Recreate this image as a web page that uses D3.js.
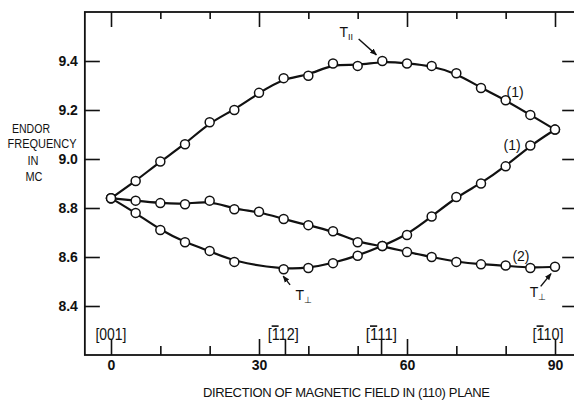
<!DOCTYPE html>
<html>
<head>
<meta charset="utf-8">
<script src="https://cdn.jsdelivr.net/npm/d3@7"></script>
<style>
  body { margin: 0; background: #fff; }
  svg text { font-family: "Liberation Sans", Arial, sans-serif; fill: #111; }
</style>
</head>
<body>
<div id="chart"></div>
<script>
// ENDOR frequency vs direction of magnetic field in (110) plane
var width = 574, height = 401;

// angles (degrees) and measured frequencies (MC)
var upperAngles = [0, 5, 10, 15, 20, 25, 30, 35, 40, 45, 50, 55, 60, 65, 70, 75, 80, 85, 90];
var upperValues = [8.84, 8.91, 8.99, 9.06, 9.15, 9.20, 9.27, 9.33, 9.34, 9.39, 9.38, 9.40, 9.39, 9.38, 9.35, 9.29, 9.24, 9.18, 9.12];

var risingAngles = [0, 5, 10, 15, 20, 25, 35, 40, 45, 50, 55, 60, 65, 70, 75, 80, 85, 90];
var risingValues = [8.84, 8.78, 8.71, 8.66, 8.625, 8.58, 8.55, 8.555, 8.575, 8.605, 8.645, 8.69, 8.765, 8.845, 8.90, 8.97, 9.055, 9.12];

var fallingAngles = [0, 5, 10, 15, 20, 25, 30, 35, 40, 45, 50, 55, 60, 65, 70, 75, 80, 85, 90];
var fallingValues = [8.84, 8.83, 8.82, 8.815, 8.83, 8.795, 8.785, 8.755, 8.73, 8.705, 8.66, 8.645, 8.62, 8.60, 8.58, 8.57, 8.565, 8.555, 8.56];

// axis ticks
var yTicks = [8.4, 8.6, 8.8, 9.0, 9.2, 9.4];
var xMajorTicks = [0, 30, 60, 90];
var xMinorTicks = [10, 20, 40, 50, 70, 80];
var directionAngles = [0, 35.26, 54.74, 90];
// label pieces: [before, overlined, after]
var directionLabels = [["[001]", "", ""], ["[", "1", "12]"], ["[", "1", "11]"], ["[", "1", "10]"]];
var directionLabelAngles = [0, 34.9, 54.8, 88.6];

// curve labels: angle, value, text
var curveLabelAngles = [81.9, 81.3, 83.1];
var curveLabelValues = [9.255, 9.035, 8.585];
var curveLabelTexts = ["(1)", "(1)", "(2)"];

// T labels and arrows
var tLabelAngles = [46.3, 37.4, 84.9];
var tLabelValues = [9.50, 8.425, 8.437];
var tLabelSubs = ["II", "\u22a5", "\u22a5"];
var arrowFrom = [[50.2, 9.49], [36.3, 8.486], [87.1, 8.48]];
var arrowTo = [[53.8, 9.425], [34.9, 8.522], [89.2, 8.532]];

var xFrame = [-5.3, 94.7];
var yFrame = [8.2, 9.6];

var x = d3.scaleLinear().domain([0, 90]).range([111, 555]);
var y = d3.scaleLinear().domain([8.2, 9.6]).range([355, 12]);

var svg = d3.select("#chart").append("svg")
    .attr("width", width)
    .attr("height", height);

svg.append("defs").append("marker")
    .attr("id", "arrow")
    .attr("viewBox", "0 0 10 10")
    .attr("refX", 9).attr("refY", 5)
    .attr("markerWidth", 7).attr("markerHeight", 7)
    .attr("markerUnits", "userSpaceOnUse")
    .attr("orient", "auto")
    .append("path")
    .attr("d", "M0,1 L10,5 L0,9 Z")
    .attr("fill", "#111");

// frame
svg.append("rect")
    .attr("x", x(xFrame[0]))
    .attr("y", y(yFrame[1]))
    .attr("width", x(xFrame[1]) - x(xFrame[0]))
    .attr("height", y(yFrame[0]) - y(yFrame[1]))
    .attr("fill", "none")
    .attr("stroke", "#111")
    .attr("stroke-width", 1.8);

function styleAxis(g) {
    g.select(".domain").remove();
    g.selectAll(".tick line").attr("stroke", "#111").attr("stroke-width", 1.6);
    g.selectAll(".tick text").attr("font-size", 14).attr("font-weight", "bold")
        .style("font-family", "'Liberation Sans', Arial, sans-serif");
}

// left axis
svg.append("g")
    .attr("transform", "translate(" + x(xFrame[0]) + ",0)")
    .call(d3.axisLeft(y).tickValues(yTicks).tickSize(-15).tickPadding(7).tickFormat(d3.format(".1f")))
    .call(styleAxis);

// right axis ticks
svg.append("g")
    .attr("transform", "translate(" + x(xFrame[1]) + ",0)")
    .call(d3.axisRight(y).tickValues(yTicks).tickSize(-16).tickFormat(""))
    .call(styleAxis);

// bottom axis
var bottomY = y(yFrame[0]);
svg.append("g")
    .attr("transform", "translate(0," + bottomY + ")")
    .call(d3.axisBottom(x).tickValues(xMajorTicks).tickSize(-16).tickPadding(5).tickFormat(d3.format("d")))
    .call(styleAxis);
svg.append("g")
    .attr("transform", "translate(0," + bottomY + ")")
    .call(d3.axisBottom(x).tickValues(xMinorTicks).tickSize(-9).tickFormat(""))
    .call(styleAxis);
svg.append("g")
    .attr("transform", "translate(0," + bottomY + ")")
    .call(d3.axisBottom(x).tickValues(directionAngles.slice(1, 3)).tickSize(-15).tickFormat(""))
    .call(styleAxis);

// top axis
var topY = y(yFrame[1]);
svg.append("g")
    .attr("transform", "translate(0," + topY + ")")
    .call(d3.axisTop(x).tickValues(xMajorTicks).tickSize(-15).tickFormat(""))
    .call(styleAxis);
svg.append("g")
    .attr("transform", "translate(0," + topY + ")")
    .call(d3.axisTop(x).tickValues(xMinorTicks).tickSize(-7).tickFormat(""))
    .call(styleAxis);

// direction labels, the bar over the 1 drawn with text-decoration
var dl = svg.append("g").selectAll("text")
    .data(directionLabels)
    .enter().append("text")
    .attr("x", function (d, i) { return x(directionLabelAngles[i]); })
    .attr("y", y(8.26))
    .attr("text-anchor", "middle")
    .attr("font-size", 16)
    .attr("textLength", 31)
    .attr("lengthAdjust", "spacingAndGlyphs");
dl.append("tspan").text(function (d) { return d[0]; });
dl.append("tspan").style("text-decoration", "overline").text(function (d) { return d[1]; });
dl.append("tspan").text(function (d) { return d[2]; });

// curves
var line = d3.line()
    .x(function (d) { return x(d[0]); })
    .y(function (d) { return y(d[1]); })
    .curve(d3.curveBasis);

var series = [
    d3.zip(upperAngles, upperValues),
    d3.zip(risingAngles, risingValues),
    d3.zip(fallingAngles, fallingValues)
];

svg.append("g").selectAll("path")
    .data(series)
    .enter().append("path")
    .attr("d", line)
    .attr("fill", "none")
    .attr("stroke", "#111")
    .attr("stroke-width", 2.2);

series.forEach(function (s) {
    svg.append("g").selectAll("circle")
        .data(s)
        .enter().append("circle")
        .attr("cx", function (d) { return x(d[0]); })
        .attr("cy", function (d) { return y(d[1]); })
        .attr("r", 4.5)
        .attr("fill", "#fff")
        .attr("stroke", "#111")
        .attr("stroke-width", 1.5);
});

// curve labels
svg.append("g").selectAll("text")
    .data(curveLabelTexts)
    .enter().append("text")
    .attr("x", function (d, i) { return x(curveLabelAngles[i]); })
    .attr("y", function (d, i) { return y(curveLabelValues[i]); })
    .attr("text-anchor", "middle")
    .attr("font-size", 14)
    .text(function (d) { return d; });

// T labels
var tl = svg.append("g").selectAll("text")
    .data(tLabelSubs)
    .enter().append("text")
    .attr("x", function (d, i) { return x(tLabelAngles[i]); })
    .attr("y", function (d, i) { return y(tLabelValues[i]); })
    .attr("font-size", 14);
tl.append("tspan").text("T");
tl.append("tspan").attr("dy", 3).attr("font-size", 9).text(function (d) { return d; });

svg.append("g").selectAll("line")
    .data(arrowFrom)
    .enter().append("line")
    .attr("x1", function (d) { return x(d[0]); })
    .attr("y1", function (d) { return y(d[1]); })
    .attr("x2", function (d, i) { return x(arrowTo[i][0]); })
    .attr("y2", function (d, i) { return y(arrowTo[i][1]); })
    .attr("stroke", "#111")
    .attr("stroke-width", 1.4)
    .attr("marker-end", "url(#arrow)");

// y title
var yTitle = ["ENDOR", "FREQUENCY", "IN", "MC"];
var yTitleX = [31, 42, 33, 34];
var yTitleY = [133, 148, 165, 181];
var yTitleW = [38, 69, 11, 17];
svg.append("g").selectAll("text")
    .data(yTitle)
    .enter().append("text")
    .attr("x", function (d, i) { return yTitleX[i]; })
    .attr("y", function (d, i) { return yTitleY[i]; })
    .attr("text-anchor", "middle")
    .attr("font-size", 12.5)
    .attr("textLength", function (d, i) { return yTitleW[i]; })
    .attr("lengthAdjust", "spacingAndGlyphs")
    .text(function (d) { return d; });

// x title
svg.append("text")
    .attr("x", 203)
    .attr("y", 397)
    .attr("font-size", 13)
    .attr("textLength", 287)
    .attr("lengthAdjust", "spacing")
    .text("DIRECTION OF MAGNETIC FIELD IN (110) PLANE");
</script>
</body>
</html>
